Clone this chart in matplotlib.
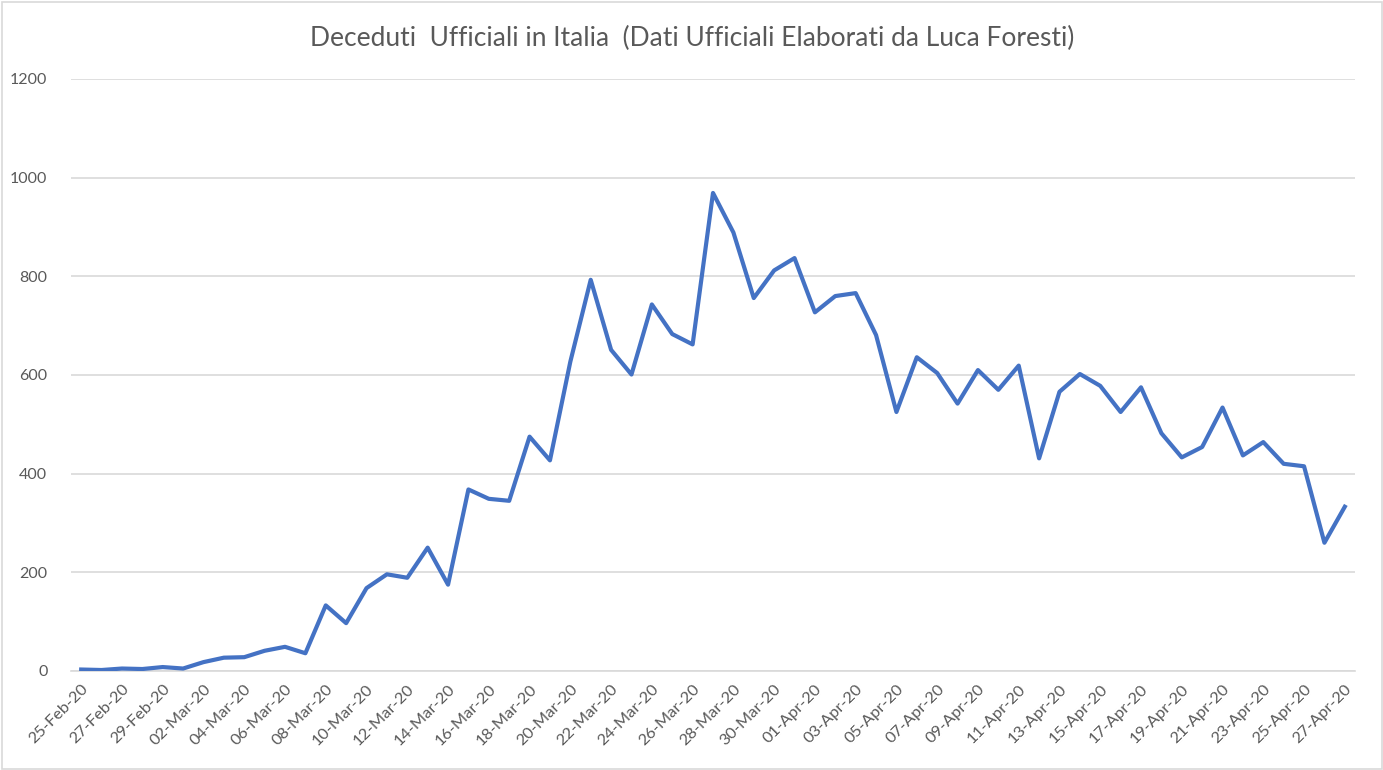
import matplotlib
matplotlib.use("Agg")
import matplotlib.pyplot as plt
import pandas as pd
from matplotlib.patches import Rectangle

dates = pd.date_range("2020-02-25", "2020-04-27", freq="D")
labels = [d.strftime("%d-%b-%y") for d in dates]
deaths = [3, 2, 5, 4, 8, 5, 18, 27, 28, 41, 49, 36, 133, 97, 168, 196, 189, 250, 175,
          368, 349, 345, 475, 427, 627, 793, 651, 601, 743, 683, 662, 969, 889, 756,
          812, 837, 727, 760, 766, 681, 525, 636, 604, 542, 610, 570, 619, 431, 566,
          602, 578, 525, 575, 482, 433, 454, 534, 437, 464, 420, 415, 260, 333]
yticks = [0, 200, 400, 600, 800, 1000, 1200]
title = "Deceduti  Ufficiali in Italia  (Dati Ufficiali Elaborati da Luca Foresti)"

plt.rcParams['font.family'] = ['Lato', 'DejaVu Sans']
W, H = 1383, 770
fig = plt.figure(figsize=(W / 100, H / 100), dpi=100)
fig.patches.append(Rectangle((1.5 / W, 1.5 / H), 1 - 3 / W, 1 - 3 / H, transform=fig.transFigure,
                             fill=False, edgecolor="#D9D9D9", linewidth=1.2))
ax = fig.add_axes([71 / W, 99 / H, (1355 - 71) / W, (671 - 79) / H])

x = list(range(len(deaths)))
ax.plot(x, deaths, color="#4472C4", linewidth=3.0, solid_joinstyle="round", zorder=3)

ax.set_xlim(-0.5, len(deaths) - 0.5)
ax.set_ylim(0, 1200)
ax.set_yticks(yticks)
ax.set_yticklabels([str(v) for v in yticks])
ax.yaxis.grid(True, color="#D9D9D9", linewidth=1.2)
ax.set_axisbelow(True)
for s in ["top", "right", "left"]:
    ax.spines[s].set_visible(False)
ax.spines["bottom"].set_color("#D9D9D9")
ax.spines["bottom"].set_linewidth(1.2)

ax.set_xticks(x[::2])
ax.set_xticklabels(labels[::2], rotation=45, ha="right", rotation_mode="anchor")
ax.tick_params(axis="x", length=0, pad=8, labelsize=11.8, labelcolor="#595959")
ax.tick_params(axis="y", length=0, pad=17, labelsize=11.5, labelcolor="#595959")

fig.text(692 / W, 1 - 38 / H, title, ha="center", va="center", fontsize=19, color="#595959")

fig.savefig("out.png", dpi=100)
